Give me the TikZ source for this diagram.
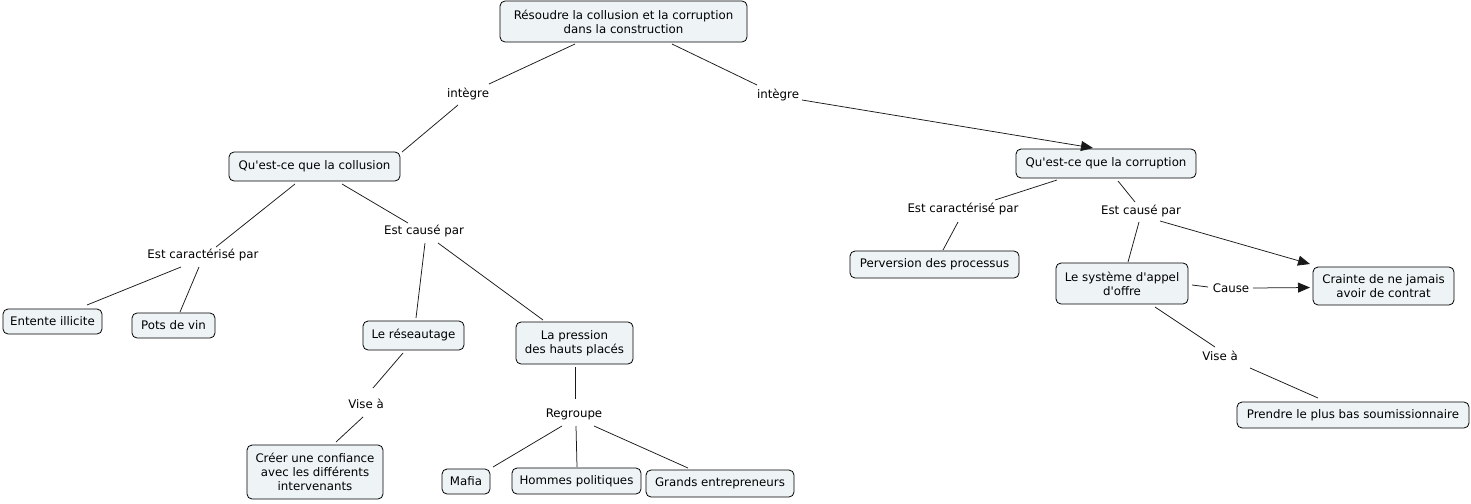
\documentclass[tikz,border=0pt]{standalone}
\usepackage{fontspec}
\setmainfont{DejaVu Sans}
\usetikzlibrary{arrows.meta}
\definecolor{cfill}{RGB}{238,244,246}
\newcommand{\apos}{\textquotesingle}
\tikzset{
  concept/.style={draw=black, line width=0.8pt, rounded corners=5pt, fill=cfill, align=center, inner sep=1pt, font=\fontsize{11.8}{14}\selectfont},
  lbl/.style={inner sep=1pt, font=\fontsize{11.8}{14}\selectfont},
  link/.style={line width=0.75pt, draw=black!90},
  arr/.style={link, -{Triangle[length=12pt,width=10pt]}}
}
\begin{document}
\begin{tikzpicture}[x=1pt,y=-1pt]
\useasboundingbox (0,0) rectangle (1471,503);
% concepts
\node[concept, minimum width=247pt, minimum height=41pt] (root) at (623.5,21.5) {Résoudre la collusion et la corruption\\dans la construction};
\node[concept, minimum width=171pt, minimum height=29pt] (coll) at (314.5,166.5) {Qu\apos est-ce que la collusion};
\node[concept, minimum width=180pt, minimum height=29pt] (corr) at (1106,163.5) {Qu\apos est-ce que la corruption};
\node[concept, minimum width=99pt, minimum height=25pt] (ent) at (52.5,321.5) {Entente illicite};
\node[concept, minimum width=83pt, minimum height=25pt] (pots) at (173.5,325.5) {Pots de vin};
\node[concept, minimum width=101pt, minimum height=29pt] (res) at (413.5,335.5) {Le réseautage};
\node[concept, minimum width=117pt, minimum height=42pt] (pres) at (574.5,343) {La pression\\des hauts placés};
\node[concept, minimum width=136pt, minimum height=54pt] (creer) at (315,472) {Créer une confiance\\avec les différents\\intervenants};
\node[concept, minimum width=48pt, minimum height=25pt] (mafia) at (466,481.5) {Mafia};
\node[concept, minimum width=129pt, minimum height=26pt] (hom) at (576.5,481) {Hommes politiques};
\node[concept, minimum width=148pt, minimum height=27pt] (grands) at (720,483.5) {Grands entrepreneurs};
\node[concept, minimum width=169pt, minimum height=27pt] (perv) at (934.5,264.5) {Perversion des processus};
\node[concept, minimum width=132pt, minimum height=41pt] (sys) at (1122,283.5) {Le système d\apos appel\\d\apos offre};
\node[concept, minimum width=141pt, minimum height=38pt] (crainte) at (1383.5,286) {Crainte de ne jamais\\avoir de contrat};
\node[concept, minimum width=232pt, minimum height=26pt] (prendre) at (1353,415) {Prendre le plus bas soumissionnaire};
% labels
\node[lbl] (int1) at (468,94) {intègre};
\node[lbl] (int2) at (778,95) {intègre};
\node[lbl] (ecp1) at (203,255) {Est caractérisé par};
\node[lbl] (ec1) at (424,231) {Est causé par};
\node[lbl] (vise1) at (366,404) {Vise à};
\node[lbl] (regr) at (574,414) {Regroupe};
\node[lbl] (ecp2) at (963,209) {Est caractérisé par};
\node[lbl] (ec2) at (1141,211) {Est causé par};
\node[lbl] (cause) at (1231,288) {Cause};
\node[lbl] (vise2) at (1220,356) {Vise à};
% connectors
\draw[link] ([shift={(-48.5,22.5)}]root.center) -- ([shift={(21,-10)}]int1.center);
\draw[link] ([shift={(-10,11)}]int1.center) -- ([shift={(87.5,-14.5)}]coll.center);
\draw[link] ([shift={(48.5,22.5)}]root.center) -- ([shift={(-21,-10)}]int2.center);
\draw[arr] ([shift={(24,5)}]int2.center) -- ([shift={(-13,-15.5)}]corr.center);
\draw[link] ([shift={(-49,16.5)}]corr.center) -- ([shift={(32,-9)}]ecp2.center);
\draw[link] ([shift={(-5,13)}]ecp2.center) -- ([shift={(8.5,-14.5)}]perv.center);
\draw[link] ([shift={(12,17.5)}]corr.center) -- ([shift={(-6,-9)}]ec2.center);
\draw[link] ([shift={(-2,11)}]ec2.center) -- ([shift={(6,-21.5)}]sys.center);
\draw[arr] ([shift={(19,10)}]ec2.center) -- ([shift={(-73.5,-22)}]crainte.center);
\draw[link] ([shift={(70,1.5)}]sys.center) -- ([shift={(-23,-1)}]cause.center);
\draw[arr] ([shift={(22,0)}]cause.center) -- ([shift={(-73.5,1.5)}]crainte.center);
\draw[link] ([shift={(33,23.5)}]sys.center) -- ([shift={(-5,-9)}]vise2.center);
\draw[link] ([shift={(30,12)}]vise2.center) -- ([shift={(-35,-17)}]prendre.center);
\draw[link] ([shift={(-19.5,17.5)}]coll.center) -- ([shift={(13,-8)}]ecp1.center);
\draw[link] ([shift={(-22,12)}]ecp1.center) -- ([shift={(34.5,-16.5)}]ent.center);
\draw[link] ([shift={(-4,12)}]ecp1.center) -- ([shift={(6.5,-13.5)}]pots.center);
\draw[link] ([shift={(27.5,17.5)}]coll.center) -- ([shift={(-16,-8)}]ec1.center);
\draw[link] ([shift={(1,12)}]ec1.center) -- ([shift={(2.5,-17.5)}]res.center);
\draw[link] ([shift={(14,12)}]ec1.center) -- ([shift={(-31.5,-23)}]pres.center);
\draw[link] ([shift={(-10.5,17.5)}]res.center) -- ([shift={(7,-16)}]vise1.center);
\draw[link] ([shift={(-3,13)}]vise1.center) -- ([shift={(21,-30)}]creer.center);
\draw[link] ([shift={(0.5,24)}]pres.center) -- ([shift={(1,-15)}]regr.center);
\draw[link] ([shift={(-12,12)}]regr.center) -- ([shift={(27,-14.5)}]mafia.center);
\draw[link] ([shift={(2,12)}]regr.center) -- ([shift={(0.5,-14)}]hom.center);
\draw[link] ([shift={(20,12)}]regr.center) -- ([shift={(-32,-15.5)}]grands.center);
\end{tikzpicture}
\end{document}
